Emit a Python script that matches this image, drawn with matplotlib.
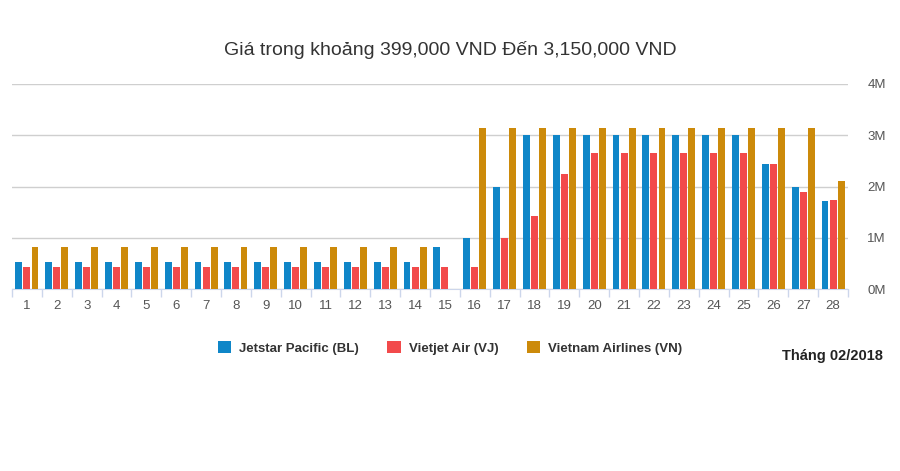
import matplotlib.pyplot as plt
import numpy as np

plt.rcParams['font.family'] = ['Liberation Sans', 'DejaVu Sans']

days = [str(d) for d in range(1, 29)]
jetstar = [0.53] * 14 + [0.81, 1.0, 2.0, 3.0, 3.0, 3.0, 3.0, 3.0, 3.0, 3.0, 3.0, 2.43, 2.0, 1.72]
vietjet = [0.42] * 14 + [0.42, 0.42, 1.0, 1.43, 2.24, 2.65, 2.65, 2.65, 2.65, 2.65, 2.65, 2.43, 1.89, 1.74]
vietnam = [0.82] * 14 + [0.0, 3.15, 3.15, 3.15, 3.15, 3.15, 3.15, 3.15, 3.15, 3.15, 3.15, 3.15, 3.15, 2.11]
y_ticks = [0, 1, 2, 3, 4]
y_labels = ['0M', '1M', '2M', '3M', '4M']

series = [
    ('Jetstar Pacific (BL)', jetstar, '#0f86c8'),
    ('Vietjet Air (VJ)', vietjet, '#f24a4b'),
    ('Vietnam Airlines (VN)', vietnam, '#cc8a0a'),
]

fig = plt.figure(figsize=(9, 4.71), dpi=100)
ax = fig.add_axes([12 / 900, 1 - 289 / 471, 836 / 900, 205 / 471])

x = np.arange(len(days))
w = 0.23
for i, (name, vals, col) in enumerate(series):
    ax.bar(x + (i - 1) * 0.27, vals, width=w, color=col, label=name, zorder=3)

ax.set_xlim(-0.5, len(days) - 0.5)
ax.set_ylim(0, 4)
ax.set_yticks(y_ticks)
ax.set_yticklabels(y_labels)
ax.yaxis.tick_right()
ax.tick_params(axis='y', length=0, pad=14, labelsize=9.5, labelcolor='#555555')
ax.grid(axis='y', color='#cfcfcf', linewidth=1, zorder=0)

ax.set_xticks(x)
ax.set_xticklabels(days)
ax.set_xticks(np.arange(-0.5, len(days)), minor=True)
ax.tick_params(axis='x', which='major', length=0, pad=8, labelsize=9.5, labelcolor='#555555')
ax.tick_params(axis='x', which='minor', length=6, color='#ccd6eb', width=1)

for s in ['top', 'left', 'right']:
    ax.spines[s].set_visible(False)
ax.spines['bottom'].set_color('#ccd6eb')

fig.text(0.5, 1 - 50 / 471, 'Giá trong khoảng 399,000 VND Đến 3,150,000 VND',
         ha='center', va='center', fontsize=14, color='#333333')

leg = fig.legend(loc='center', bbox_to_anchor=(0.5, 1 - 348 / 471), ncol=3, frameon=False,
                 handlelength=1.0, handleheight=1.0, handletextpad=0.6, columnspacing=2.2,
                 prop={'size': 9.5, 'weight': 'bold'})
for t in leg.get_texts():
    t.set_color('#333333')

fig.text(883 / 900, 1 - 356 / 471, 'Tháng 02/2018', ha='right', va='center',
         fontsize=10.5, fontweight='bold', color='#222222')

fig.savefig('out.png', dpi=100, facecolor='white')
